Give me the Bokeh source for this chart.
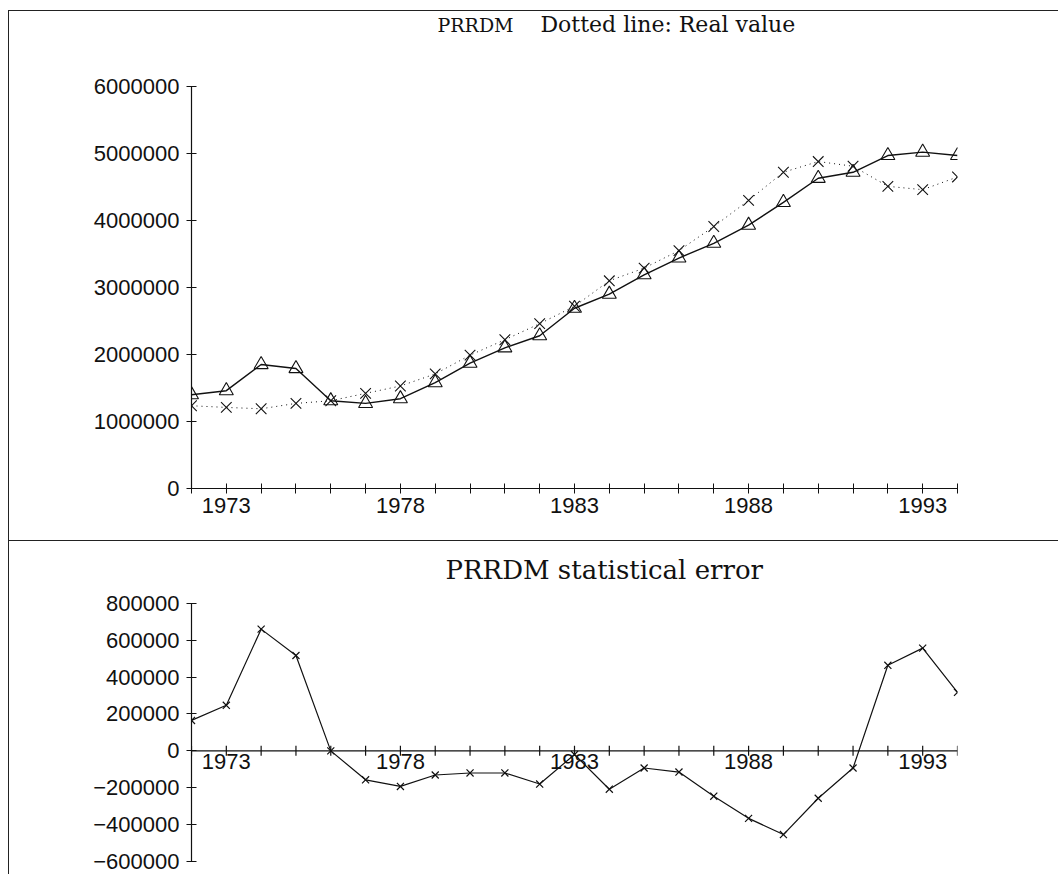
import numpy as np
from bokeh.plotting import figure
from bokeh.models import Range1d, FixedTicker, Span
from bokeh.layouts import column
from bokeh.embed import file_html
from bokeh.resources import INLINE
from bokeh.core.properties import value

# ---------------- data ----------------
years = list(range(1972, 1995))
model = [1400000, 1460000, 1850000, 1790000, 1310000, 1270000, 1340000, 1580000,
         1870000, 2100000, 2280000, 2690000, 2900000, 3190000, 3440000, 3660000,
         3930000, 4270000, 4630000, 4720000, 4970000, 5020000, 4970000]
real = [1235000, 1210000, 1190000, 1270000, 1310000, 1420000, 1530000, 1710000,
        1990000, 2220000, 2460000, 2720000, 3100000, 3290000, 3550000, 3910000,
        4300000, 4720000, 4880000, 4810000, 4510000, 4460000, 4650000]
error = [165000, 247000, 660000, 517000, 0, -157000, -193000, -131000,
         -120000, -120000, -180000, -20000, -208000, -93000, -115000, -246000,
         -366000, -454000, -257000, -93000, 464000, 557000, 317000]

label_years = [1973, 1978, 1983, 1988, 1993]
top_y_ticks = [0, 1000000, 2000000, 3000000, 4000000, 5000000, 6000000]
top_y_labels = ["0", "1000000", "2000000", "3000000", "4000000", "5000000", "6000000"]
err_y_ticks = [-600000, -400000, -200000, 0, 200000, 400000, 600000, 800000]
err_y_labels = ["\u2212600000", "\u2212400000", "\u2212200000", "0",
                "200000", "400000", "600000", "800000"]

TICK_FONT = "Liberation Sans"
TICK_SIZE = "22px"
TITLE_FONT = "DejaVu Serif"
INK = "#111111"

year_overrides = {y: (str(y) if y in label_years else "") for y in years}

# pixel geometry (canvas-relative) of the reference
TOP_FRAME_H = 477          # frame from canvas top to the zero line
TOP_PX_PER_UNIT = 402 / 6e6
BOT_ZERO_FROM_TOP = 210
BOT_PX_PER_UNIT = 148 / 8e5
PX_PER_YEAR = 34.82


def style_axis(ax, ticks, overrides):
    ax.ticker = FixedTicker(ticks=ticks)
    ax.major_label_overrides = overrides
    ax.minor_tick_line_color = None
    ax.major_tick_in = 5
    ax.major_tick_out = 5
    ax.axis_line_color = INK
    ax.major_tick_line_color = INK
    ax.axis_line_width = 1.2
    ax.major_label_text_font = TICK_FONT
    ax.major_label_text_font_size = TICK_SIZE
    ax.major_label_text_color = INK


def xpx(px):
    # page x pixel -> year
    return years[0] + (px - 191) / PX_PER_YEAR


# ---------------- top panel ----------------
top_end = TOP_FRAME_H / TOP_PX_PER_UNIT
p1 = figure(width=1050, height=530, x_range=Range1d(years[0], years[-1]),
            y_range=Range1d(0, top_end), output_backend="svg",
            toolbar_location=None, min_border_left=182, min_border_right=102,
            min_border_top=0, min_border_bottom=53, margin=(10, 0, 0, 8),
            styles={"border-top": "1px solid #222", "border-left": "1px solid #222"})
p1.grid.visible = False
p1.outline_line_color = None
style_axis(p1.xaxis[0], years, year_overrides)
p1.xaxis[0].major_label_standoff = 4
style_axis(p1.yaxis[0], top_y_ticks, dict(zip(top_y_ticks, top_y_labels)))
p1.yaxis[0].major_label_standoff = 7
p1.yaxis[0].bounds = (top_y_ticks[0], top_y_ticks[-1])

p1.line(years, real, line_color=INK, line_width=1, line_dash="1 4")
p1.scatter(years, real, marker="x", size=15, line_color=INK, line_width=1.1)
p1.line(years, model, line_color=INK, line_width=1.4)
p1.scatter(years, model, marker="triangle", size=14, fill_color=None,
           line_color=INK, line_width=1.1)


def top_ypx(py):
    return (488 - py) / TOP_PX_PER_UNIT


p1.text(x=[xpx(437)], y=[top_ypx(24)], text=["PRRDM"],
        text_font=value(TITLE_FONT), text_font_size="19px",
        text_baseline="middle", text_color=INK)
p1.text(x=[xpx(540)], y=[top_ypx(24)], text=["Dotted line: Real value"],
        text_font=value(TITLE_FONT), text_font_size="22px",
        text_baseline="middle", text_color=INK)

# ---------------- bottom panel ----------------
bot_end = BOT_ZERO_FROM_TOP / BOT_PX_PER_UNIT
p2 = figure(width=1050, height=334, x_range=Range1d(years[0], years[-1]),
            y_range=Range1d(err_y_ticks[0], bot_end), output_backend="svg",
            toolbar_location=None, x_axis_location=None,
            min_border_left=182, min_border_right=102,
            min_border_top=0, min_border_bottom=14, margin=(0, 0, 0, 8),
            styles={"border-top": "1px solid #222", "border-left": "1px solid #222"})
p2.grid.visible = False
p2.outline_line_color = None
style_axis(p2.yaxis[0], err_y_ticks, dict(zip(err_y_ticks, err_y_labels)))
p2.yaxis[0].major_label_standoff = 7
p2.yaxis[0].bounds = (err_y_ticks[0], err_y_ticks[-1])

p2.add_layout(Span(location=0, dimension="width", line_color=INK, line_width=1.2))
p2.scatter(years, [0] * len(years), marker="dash", angle=np.pi / 2, size=10,
           line_color=INK, line_width=1.2)
p2.text(x=label_years, y=[0] * len(label_years), text=[str(y) for y in label_years],
        text_align="center", text_baseline="top", y_offset=3,
        text_font=value(TICK_FONT), text_font_size=TICK_SIZE, text_color=INK)

p2.line(years, error, line_color=INK, line_width=1.2)
p2.scatter(years, error, marker="x", size=10, line_color=INK, line_width=1.2)


def bot_ypx(py):
    return (752 - py) / BOT_PX_PER_UNIT


p2.text(x=[xpx(445)], y=[bot_ypx(571)], text=["PRRDM statistical error"],
        text_font=value(TITLE_FONT), text_font_size="26px",
        text_baseline="middle", text_color=INK)

layout = column(p1, p2, spacing=0)
open("out.html", "w").write(file_html(layout, INLINE))
